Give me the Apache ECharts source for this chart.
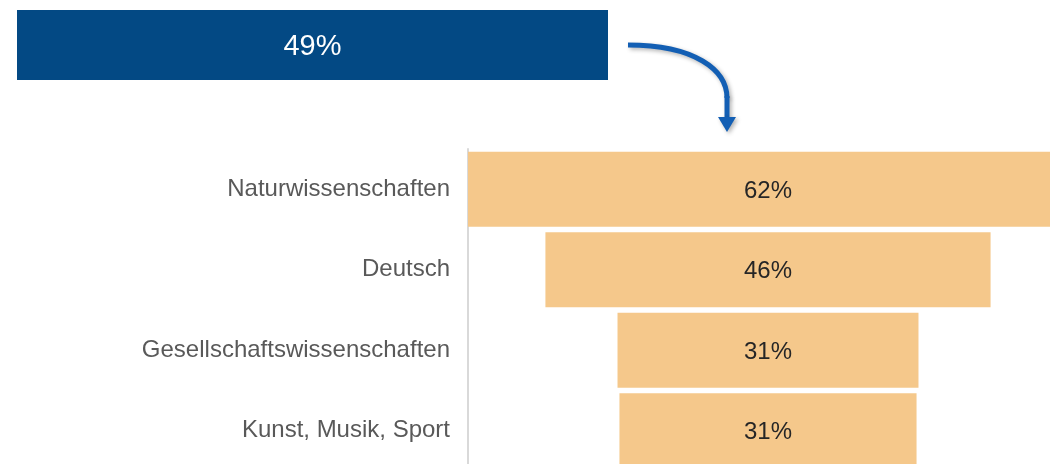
<!DOCTYPE html>
<html>
<head>
<meta charset="utf-8">
<script src="https://cdn.jsdelivr.net/npm/echarts@6/dist/echarts.min.js"></script>
<style>
  html, body { margin: 0; padding: 0; background: #fff; }
  #main { width: 1050px; height: 464px; }
</style>
</head>
<body>
<div id="main"></div>
<script>
// Werte aus der Vorlage (aus den Balkenlängen geschätzt)
var gesamtLabel = ['Gesamt']
var gesamtWert = [49]
var faecher = ['Naturwissenschaften', 'Deutsch', 'Gesellschaftswissenschaften', 'Kunst, Musik, Sport']
var werte = [62, 46, 31.1, 30.7]

var maxWert = Math.max.apply(null, werte)
// unsichtbarer Versatz, damit die Balken zentriert sind (Trichter)
var versatz = werte.map(function (v) { return (maxWert - v) / 2 })

var chart = echarts.init(document.getElementById('main'))

function prozent(p) {
  return Math.round(p.value) + '%'
}

var option = {
  animation: false,
  textStyle: { fontFamily: 'Liberation Sans, Arial, sans-serif' },
  grid: [
    { left: 468, top: 149, width: 600, height: 322, outerBoundsMode: 'none', containLabel: false },
    { left: 17, top: 10, width: 591, height: 70, outerBoundsMode: 'none', containLabel: false }
  ],
  xAxis: [
    { gridIndex: 0, type: 'value', min: 0, max: maxWert, show: false },
    { gridIndex: 1, type: 'value', min: 0, max: gesamtWert[0], show: false }
  ],
  yAxis: [
    {
      gridIndex: 0,
      type: 'category',
      inverse: true,
      data: faecher,
      axisLine: { show: true, lineStyle: { color: '#d9d9d9', width: 2 } },
      axisTick: { show: false },
      axisLabel: { color: '#595959', fontSize: 24, margin: 18, padding: [4, 0, 0, 0] }
    },
    { gridIndex: 1, type: 'category', data: gesamtLabel, show: false }
  ],
  series: [
    {
      type: 'bar',
      xAxisIndex: 0, yAxisIndex: 0,
      stack: 'trichter',
      data: versatz,
      barWidth: 75,
      itemStyle: { color: 'transparent' },
      silent: true
    },
    {
      type: 'bar',
      xAxisIndex: 0, yAxisIndex: 0,
      stack: 'trichter',
      data: werte,
      barWidth: 75,
      itemStyle: { color: '#f5c88b' },
      label: {
        show: true,
        position: 'inside',
        formatter: prozent,
        color: '#262626',
        fontSize: 24,
        offset: [0, 2]
      }
    },
    {
      type: 'bar',
      xAxisIndex: 1, yAxisIndex: 1,
      data: gesamtWert,
      barWidth: 70,
      itemStyle: { color: '#034984' },
      label: {
        show: true,
        position: 'inside',
        formatter: prozent,
        color: '#ffffff',
        fontSize: 29,
        offset: [0, 2]
      }
    }
  ],
  graphic: [
    {
      type: 'bezierCurve',
      shape: { x1: 628, y1: 45, cpx1: 695, cpy1: 45, cpx2: 727, cpy2: 70, x2: 727, y2: 98 },
      style: { stroke: '#135fb4', lineWidth: 5, fill: null, shadowBlur: 4, shadowOffsetX: 2, shadowOffsetY: 2, shadowColor: 'rgba(0,0,0,0.3)' }
    },
    {
      type: 'line',
      shape: { x1: 727, y1: 96, x2: 727, y2: 119 },
      style: { stroke: '#135fb4', lineWidth: 5, shadowBlur: 4, shadowOffsetX: 2, shadowOffsetY: 2, shadowColor: 'rgba(0,0,0,0.3)' }
    },
    {
      type: 'polygon',
      shape: { points: [[718, 117], [736, 117], [727, 132]] },
      style: { fill: '#135fb4', shadowBlur: 4, shadowOffsetX: 2, shadowOffsetY: 2, shadowColor: 'rgba(0,0,0,0.3)' }
    }
  ]
}

chart.setOption(option)
</script>
</body>
</html>
